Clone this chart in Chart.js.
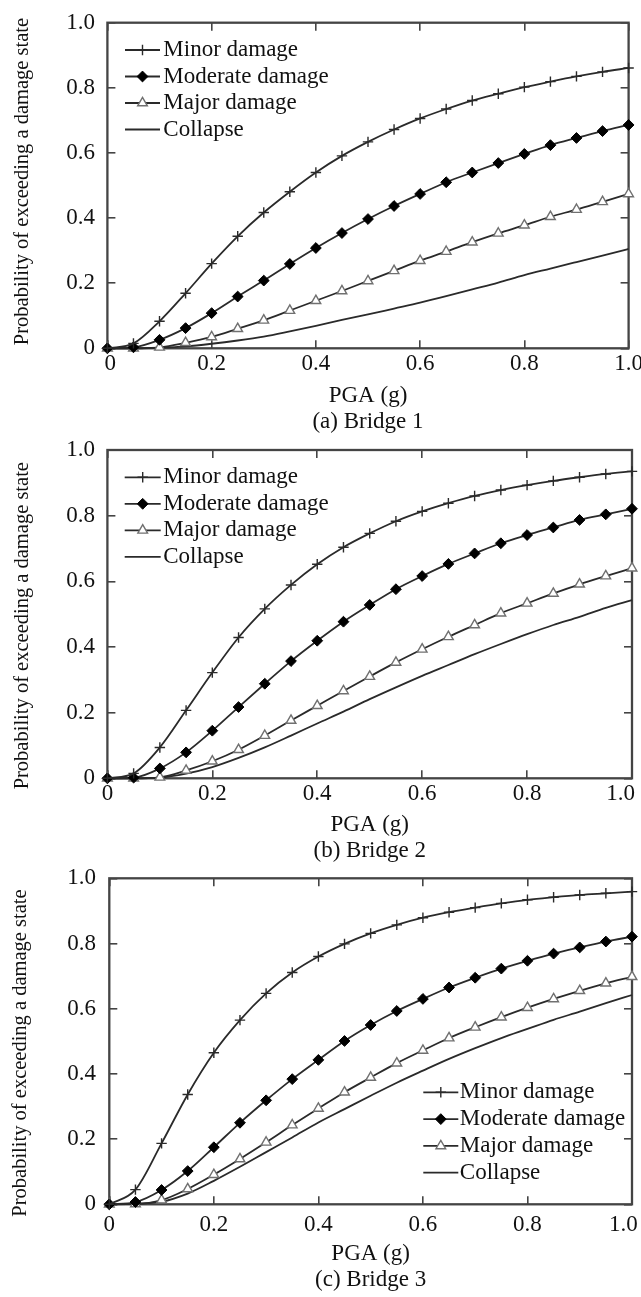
<!DOCTYPE html>
<html>
<head>
<meta charset="utf-8">
<script src="https://cdn.jsdelivr.net/npm/chart.js@4.4.1/dist/chart.umd.min.js"></script>
<style>
  html, body { margin: 0; padding: 0; background: #ffffff; }
  body { width: 641px; height: 1297px; position: relative; overflow: hidden; }
  canvas { position: absolute; left: 0; }
</style>
</head>
<body>
<canvas id="c1" width="641" height="440" style="top:0px"></canvas>
<canvas id="c2" width="641" height="440" style="top:430px"></canvas>
<canvas id="c3" width="641" height="437" style="top:860px"></canvas>
<script>
// ---------------- DATA ----------------
const pga = [0, 0.05, 0.1, 0.15, 0.2, 0.25, 0.3, 0.35, 0.4, 0.45, 0.5,
             0.55, 0.6, 0.65, 0.7, 0.75, 0.8, 0.85, 0.9, 0.95, 1.0];

const seriesNames = ['Minor damage', 'Moderate damage', 'Major damage', 'Collapse'];
const xTickLabels = ['0', '0.2', '0.4', '0.6', '0.8', '1.0'];
const yTickLabels = ['0', '0.2', '0.4', '0.6', '0.8', '1.0'];
const xTitle = 'PGA (g)';
const yTitle = 'Probability of exceeding a damage state';
const captions = ['(a) Bridge 1', '(b) Bridge 2', '(c) Bridge 3'];

// Bridge 1
const minor1    = [0, 0.015, 0.083, 0.169, 0.260, 0.344, 0.417, 0.481, 0.540, 0.591, 0.634, 0.672, 0.706, 0.735, 0.761, 0.782, 0.802, 0.819, 0.835, 0.849, 0.861];
const moderate1 = [0, 0.003, 0.026, 0.062, 0.108, 0.159, 0.208, 0.259, 0.308, 0.354, 0.397, 0.437, 0.474, 0.510, 0.540, 0.569, 0.597, 0.624, 0.646, 0.667, 0.686];
const major1    = [0, 0.000, 0.003, 0.017, 0.035, 0.060, 0.086, 0.116, 0.146, 0.176, 0.207, 0.238, 0.269, 0.297, 0.326, 0.353, 0.378, 0.404, 0.426, 0.450, 0.474];
const collapse1 = [0, 0.000, 0.002, 0.006, 0.014, 0.024, 0.036, 0.052, 0.069, 0.087, 0.104, 0.122, 0.140, 0.160, 0.181, 0.202, 0.225, 0.245, 0.265, 0.285, 0.305];

// Bridge 2
const minor2    = [0, 0.015, 0.094, 0.207, 0.322, 0.429, 0.516, 0.589, 0.652, 0.704, 0.746, 0.783, 0.813, 0.838, 0.860, 0.878, 0.893, 0.906, 0.917, 0.927, 0.935];
const moderate2 = [0, 0.002, 0.030, 0.079, 0.145, 0.217, 0.288, 0.357, 0.419, 0.477, 0.528, 0.576, 0.616, 0.653, 0.685, 0.716, 0.741, 0.764, 0.787, 0.804, 0.821];
const major2    = [0, 0.000, 0.003, 0.024, 0.052, 0.087, 0.130, 0.176, 0.221, 0.266, 0.310, 0.353, 0.393, 0.431, 0.467, 0.503, 0.533, 0.563, 0.591, 0.616, 0.640];
const collapse2 = [0, 0.000, 0.002, 0.014, 0.034, 0.062, 0.094, 0.130, 0.167, 0.203, 0.241, 0.277, 0.312, 0.345, 0.378, 0.409, 0.439, 0.467, 0.492, 0.519, 0.543];

// Bridge 3
const minor3    = [0, 0.045, 0.187, 0.337, 0.465, 0.565, 0.647, 0.711, 0.760, 0.799, 0.831, 0.857, 0.879, 0.896, 0.910, 0.923, 0.934, 0.942, 0.949, 0.954, 0.959];
const moderate3 = [0, 0.007, 0.044, 0.102, 0.175, 0.250, 0.319, 0.384, 0.443, 0.501, 0.550, 0.593, 0.630, 0.665, 0.695, 0.723, 0.747, 0.769, 0.788, 0.806, 0.821];
const major3    = [0, 0.001, 0.013, 0.047, 0.091, 0.139, 0.190, 0.243, 0.294, 0.344, 0.389, 0.433, 0.472, 0.510, 0.543, 0.574, 0.603, 0.630, 0.655, 0.678, 0.698];
const collapse3 = [0, 0.002, 0.008, 0.033, 0.072, 0.115, 0.160, 0.205, 0.251, 0.292, 0.333, 0.373, 0.410, 0.446, 0.479, 0.510, 0.538, 0.566, 0.591, 0.617, 0.642];

// ---------------- STYLE / LAYOUT ----------------
const FONT = 'Liberation Serif';
const TEXT = '#111111';
const AXIS = '#444444';
const LINE = '#2a2a2a';

const seriesStyles = [
  { pointStyle: 'cross',    pointRadius: 5.2, pointBorderColor: LINE,   pointBackgroundColor: LINE,   pointBorderWidth: 1.4 },
  { pointStyle: 'rectRot',  pointRadius: 5.4, pointBorderColor: '#000', pointBackgroundColor: '#000', pointBorderWidth: 1 },
  { pointStyle: 'triangle', pointRadius: 5.6, pointBorderColor: '#707070', pointBackgroundColor: '#fff', pointBorderWidth: 1.4 },
  { pointStyle: false,      pointRadius: 0,   pointBorderColor: LINE,   pointBackgroundColor: LINE,   pointBorderWidth: 1 }
];

const panels = [
  { id: 'c1', H: 440, top: 22.7, bottom: 348.3, left: 107.4, right: 628.6,
    xPad: 9.9, yPad: 20.4, titlePadBottom: 4.8, yTitleX: 22.5, yTitleY: 181.5,
    legend: { x: 125, y0: 50, dy: 26.5, len: 35, gap: 3.3 },
    firstLabelPad: 1, lastLabelPad: 0,
    series: [minor1, moderate1, major1, collapse1] },
  { id: 'c2', H: 440, top: 20, bottom: 348.3, left: 107.4, right: 632,
    xPad: 9.9, yPad: 20.4, titlePadBottom: 5.8, yTitleX: 22.5, yTitleY: 195.7,
    legend: { x: 124.7, y0: 47.3, dy: 26.5, len: 36, gap: 2.5 },
    firstLabelPad: 0, lastLabelPad: 4,
    series: [minor2, moderate2, major2, collapse2] },
  { id: 'c3', H: 437, top: 18.3, bottom: 344.3, left: 109.3, right: 632,
    xPad: 14.9, yPad: 21.3, titlePadBottom: 3.8, yTitleX: 20.5, yTitleY: 193,
    legend: { x: 423.3, y0: 232.3, dy: 26.8, len: 35, gap: 1.5 },
    firstLabelPad: 0, lastLabelPad: 3,
    series: [minor3, moderate3, major3, collapse3] }
];

Chart.defaults.font.family = FONT;
Chart.defaults.color = TEXT;

function fixBox(prop, val) {
  return function (s) {
    s[prop] = val;
    s.paddingLeft = 0; s.paddingRight = 0; s.paddingTop = 0; s.paddingBottom = 0;
  };
}

function drawMarker(ctx, st, x, y) {
  if (!st.pointStyle || !st.pointRadius) return;
  ctx.save();
  ctx.fillStyle = st.pointBackgroundColor;
  ctx.strokeStyle = st.pointBorderColor;
  ctx.lineWidth = st.pointBorderWidth;
  if (Chart.helpers && Chart.helpers.drawPoint) {
    Chart.helpers.drawPoint(ctx, { pointStyle: st.pointStyle, rotation: 0, radius: st.pointRadius, borderWidth: st.pointBorderWidth }, x, y);
  } else {
    const r = st.pointRadius;
    ctx.beginPath();
    if (st.pointStyle === 'cross') {
      ctx.moveTo(x - r, y); ctx.lineTo(x + r, y); ctx.moveTo(x, y - r); ctx.lineTo(x, y + r);
      ctx.stroke();
    } else if (st.pointStyle === 'rectRot') {
      ctx.moveTo(x - r, y); ctx.lineTo(x, y - r); ctx.lineTo(x + r, y); ctx.lineTo(x, y + r); ctx.closePath();
      ctx.fill(); ctx.stroke();
    } else if (st.pointStyle === 'triangle') {
      ctx.moveTo(x, y - r); ctx.lineTo(x + r * 0.866, y + r / 2); ctx.lineTo(x - r * 0.866, y + r / 2); ctx.closePath();
      ctx.fill(); ctx.stroke();
    }
  }
  ctx.restore();
}

const decorPlugin = {
  id: 'decor',
  beforeDatasetsDraw(chart) {
    // plot frame along the chart area
    const a = chart.chartArea;
    const ctx = chart.ctx;
    ctx.save();
    ctx.strokeStyle = AXIS;
    ctx.lineWidth = 2.3;
    ctx.strokeRect(a.left, a.top, a.right - a.left, a.bottom - a.top);
    ctx.restore();
  },
  afterDraw(chart, args, opts) {
    const ctx = chart.ctx;
    const lg = opts.legend;
    ctx.save();
    chart.data.datasets.forEach((ds, i) => {
      const y = lg.y0 + i * lg.dy;
      ctx.strokeStyle = ds.borderColor;
      ctx.lineWidth = ds.borderWidth;
      ctx.beginPath();
      ctx.moveTo(lg.x, y);
      ctx.lineTo(lg.x + lg.len, y);
      ctx.stroke();
      drawMarker(ctx, seriesStyles[i], lg.x + lg.len / 2, y);
      ctx.fillStyle = TEXT;
      ctx.font = '23px "' + FONT + '"';
      ctx.textAlign = 'left';
      ctx.textBaseline = 'middle';
      ctx.fillText(ds.label, lg.x + lg.len + lg.gap, y);
    });
    ctx.restore();
    const yScale = chart.scales.y;
    ctx.save();
    ctx.translate(opts.yTitleX, opts.yTitleY);
    ctx.rotate(-Math.PI / 2);
    ctx.fillStyle = TEXT;
    ctx.font = '20.5px "' + FONT + '"';
    ctx.textAlign = 'center';
    ctx.textBaseline = 'middle';
    ctx.fillText(yScale.options.title.text, 0, 0);
    ctx.restore();
  }
};

const tickGrid = { drawOnChartArea: false, drawTicks: true, tickLength: -8, color: AXIS, lineWidth: 1.6 };

panels.forEach((p, pi) => {
  const datasets = p.series.map((vals, si) => Object.assign({
    label: seriesNames[si],
    data: pga.map((x, k) => ({ x: x, y: vals[k] })),
    borderColor: LINE,
    borderWidth: 1.8,
    fill: false,
    cubicInterpolationMode: 'monotone',
    clip: false
  }, seriesStyles[si]));

  const xLabel = (v, idx) => {
    let t = xTickLabels[idx];
    if (idx === 0) t = ' '.repeat(p.firstLabelPad) + t;
    if (idx === xTickLabels.length - 1) t = t + ' '.repeat(p.lastLabelPad);
    return t;
  };

  new Chart(document.getElementById(p.id), {
    type: 'line',
    data: { datasets },
    plugins: [decorPlugin],
    options: {
      responsive: false,
      devicePixelRatio: 1,
      animation: false,
      events: [],
      layout: { padding: { left: 0, top: p.top, right: 641 - p.right, bottom: 0 } },
      plugins: {
        legend: { display: false },
        tooltip: { enabled: false },
        decor: { legend: p.legend, yTitleX: p.yTitleX, yTitleY: p.yTitleY }
      },
      scales: {
        x: {
          type: 'linear', position: 'bottom', min: 0, max: 1,
          ticks: { stepSize: 0.2, padding: p.xPad, maxRotation: 0, autoSkip: false,
                   color: TEXT, font: { size: 23, family: FONT }, callback: xLabel },
          grid: tickGrid,
          border: { display: false },
          title: { display: true, text: [xTitle, captions[pi]], color: TEXT,
                   font: { size: 23, family: FONT, lineHeight: 1.15 },
                   padding: { top: 0, bottom: p.titlePadBottom } },
          afterFit: fixBox('height', p.H - p.bottom)
        },
        y: {
          type: 'linear', position: 'left', min: 0, max: 1,
          ticks: { stepSize: 0.2, padding: p.yPad, color: TEXT,
                   font: { size: 23, family: FONT }, callback: (v, idx) => yTickLabels[idx] },
          grid: tickGrid,
          border: { display: false },
          title: { display: false, text: yTitle },
          afterFit: fixBox('width', p.left)
        },
        x2: {
          type: 'linear', position: 'top', min: 0, max: 1,
          ticks: { stepSize: 0.2, display: false },
          grid: tickGrid,
          border: { display: false },
          afterFit: fixBox('height', 0)
        },
        y2: {
          type: 'linear', position: 'right', min: 0, max: 1,
          ticks: { stepSize: 0.2, display: false },
          grid: tickGrid,
          border: { display: false },
          afterFit: fixBox('width', 0)
        }
      }
    }
  });
});
</script>
</body>
</html>
